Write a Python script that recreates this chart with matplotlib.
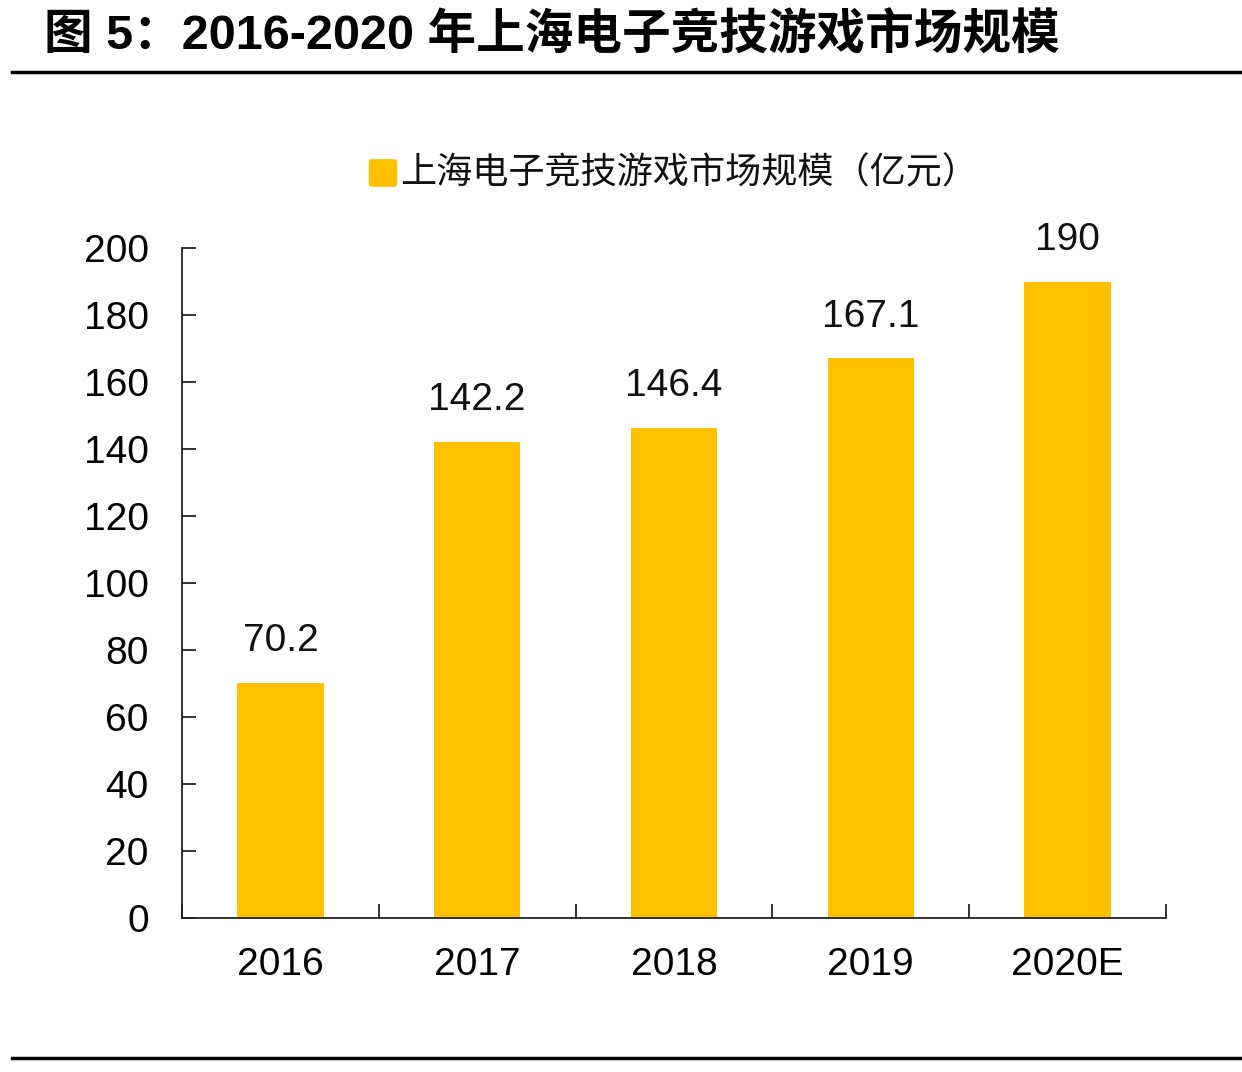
import matplotlib
matplotlib.use("Agg")
import matplotlib.pyplot as plt
from matplotlib.lines import Line2D
from matplotlib.patches import FancyBboxPatch

# data
years = ['2016', '2017', '2018', '2019', '2020E']
market = [70.2, 142.2, 146.4, 167.1, 190]
yticks = [0, 20, 40, 60, 80, 100, 120, 140, 160, 180, 200]
title = '图 5：2016-2020 年上海电子竞技游戏市场规模'
legend_label = '上海电子竞技游戏市场规模（亿元）'

bar_color = '#FFC000'
fonts = ['Liberation Sans', 'Noto Sans CJK SC', 'DejaVu Sans']
plt.rcParams['font.family'] = fonts

fig = plt.figure(figsize=(12.42, 10.72), dpi=100)
ax = fig.add_axes([182 / 1242, 1 - 918 / 1072, (1166 - 182) / 1242, (918 - 248) / 1072])

x = range(len(years))
ax.bar(x, market, width=0.44, color=bar_color, zorder=2)
for i, v in enumerate(market):
    lbl = f'{v:g}'
    ax.text(i, v + 7, lbl, ha='center', va='bottom', fontsize=28, color='#111111')

ax.set_xlim(-0.5, len(years) - 0.5)
ax.set_ylim(0, 200)
ax.set_yticks(yticks)
ax.set_yticklabels([str(t) for t in yticks], fontsize=28)
ax.set_xticks(list(x))
ax.set_xticklabels(years, fontsize=28)
ax.set_xticks([i - 0.5 for i in range(len(years) + 1)], minor=True)
ax.tick_params(axis='x', which='major', length=0, pad=21)
ax.tick_params(axis='x', which='minor', direction='in', length=10, width=1.3, color='#222222')
ax.tick_params(axis='y', direction='in', length=10, width=1.3, color='#222222', pad=24)
for s in ['top', 'right']:
    ax.spines[s].set_visible(False)
for s in ['left', 'bottom']:
    ax.spines[s].set_linewidth(1.3)
    ax.spines[s].set_color('#222222')

# legend drawn manually
fig.patches.append(FancyBboxPatch((372 / 1242, 1 - 184 / 1072), 22 / 1242, 22 / 1072,
                                  boxstyle='round,pad=0.002', transform=fig.transFigure,
                                  color=bar_color))
fig.text(400 / 1242, 1 - 173 / 1072, legend_label, fontsize=26, va='center', ha='left',
         family=['Noto Sans CJK SC', 'DejaVu Sans'], color='#111111')

# title and rules
fig.text(44 / 1242, 1 - 36 / 1072, title, fontsize=35, fontweight='bold', va='center', ha='left')
fig.add_artist(Line2D([12 / 1242, 1], [1 - 72 / 1072] * 2, color='black', lw=2.5))
fig.add_artist(Line2D([12 / 1242, 1], [1 - 1058 / 1072] * 2, color='black', lw=2.5))

fig.savefig('out.png', dpi=100, facecolor='white')
